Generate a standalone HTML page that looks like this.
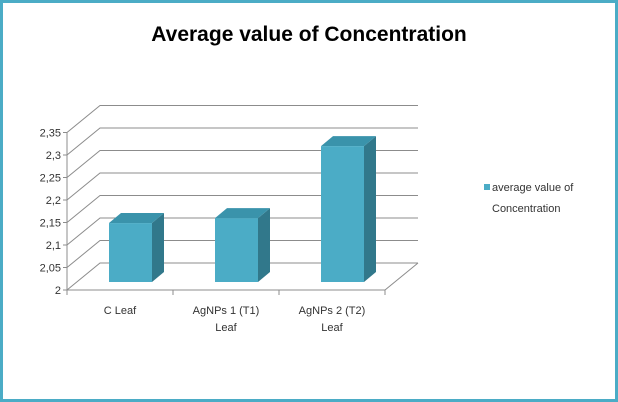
<!DOCTYPE html>
<html><head><meta charset="utf-8"><style>
body{margin:0;background:#fff}
svg{display:block;font-family:"Liberation Sans",sans-serif}
</style></head><body>
<svg width="618" height="402" viewBox="0 0 618 402">
<rect x="1.5" y="1.5" width="615" height="399" fill="#fff" stroke="#4bacc6" stroke-width="3"/>
<text x="309" y="41" text-anchor="middle" font-size="21" font-weight="bold" fill="#000">Average value of Concentration</text>
<g id="grid"></g>
<g id="bars"></g>
<g id="labels"></g>
<rect x="484" y="184" width="6" height="6" fill="#4bacc6"/>
<text x="492" y="191" font-size="11" fill="#333">average value of</text>
<text x="492" y="212" font-size="11" fill="#333">Concentration</text>
</svg>
<script>
const categories=[["C Leaf"],["AgNPs 1 (T1)","Leaf"],["AgNPs 2 (T2)","Leaf"]];
const values=[2.131,2.142,2.302];
const ticks=[2,2.05,2.1,2.15,2.2,2.25,2.3,2.35];
const tickLabels=["2","2,05","2,1","2,15","2,2","2,25","2,3","2,35"];
const NS="http://www.w3.org/2000/svg";
const x0=67,x1=385,dx=33,dy=27,yMin=2,yMax=2.35,yFront0=290,pxPer=22.5/0.05;
function yF(v){return yFront0-(v-yMin)*pxPer;}
function mk(t,a,p){const e=document.createElementNS(NS,t);for(const k in a)e.setAttribute(k,a[k]);p.appendChild(e);return e;}
const g=document.getElementById('grid'),b=document.getElementById('bars'),l=document.getElementById('labels');
ticks.forEach((v,i)=>{
  const y=yF(v);
  const ln=mk('polyline',{points:`${x0},${y} ${x0+dx},${y-dy} ${x1+dx},${y-dy}`,fill:'none',stroke:'#8c8c8c','stroke-width':1},g);
  
  
  const tk=mk('line',{x1:x0-4,y1:y,x2:x0,y2:y,stroke:'#8c8c8c'},g);
  
  
  const t=mk('text',{x:x0-6,y:y+4,'text-anchor':'end','font-size':11,fill:'#333'},l);
  t.textContent=tickLabels[i];
  
  
});
const fl=mk('polyline',{points:`${x0},${yF(yMax)} ${x0},${yFront0} ${x1},${yFront0} ${x1+dx},${yFront0-dy}`,fill:'none',stroke:'#8c8c8c'},g);


const n=categories.length,cw=(x1-x0)/n;
for(let i=0;i<=n;i++){const x=x0+i*cw;const t=mk('line',{x1:x,y1:yFront0,x2:x,y2:yFront0+5,stroke:'#8c8c8c'},g);
  }
const bw=43,bdx=12,bdy=10,off=8;
values.forEach((v,i)=>{
  const cx=x0+(i+0.5)*cw;
  const xl=cx-11,xr=xl+bw;
  const base=yFront0-off,top=yF(v)-off;
  const h=base-top;
  const grp=mk('g',{},b);
  
  
  mk('polygon',{points:`${xr},${top} ${xr+bdx},${top-bdy} ${xr+bdx},${base-bdy} ${xr},${base}`,fill:'#31788b'},grp);
  mk('polygon',{points:`${xl},${top} ${xl+bdx},${top-bdy} ${xr+bdx},${top-bdy} ${xr},${top}`,fill:'#3a93ab'},grp);
  mk('rect',{x:xl,y:top,width:bw,height:h,fill:'#4bacc6'},grp);
  categories[i].forEach((s,j)=>{
    const t=mk('text',{x:x0+(i+0.5)*cw,y:314+j*17,'text-anchor':'middle','font-size':11,fill:'#333'},l);
    t.textContent=s;
    
    
  });
});
</script>
</body></html>
